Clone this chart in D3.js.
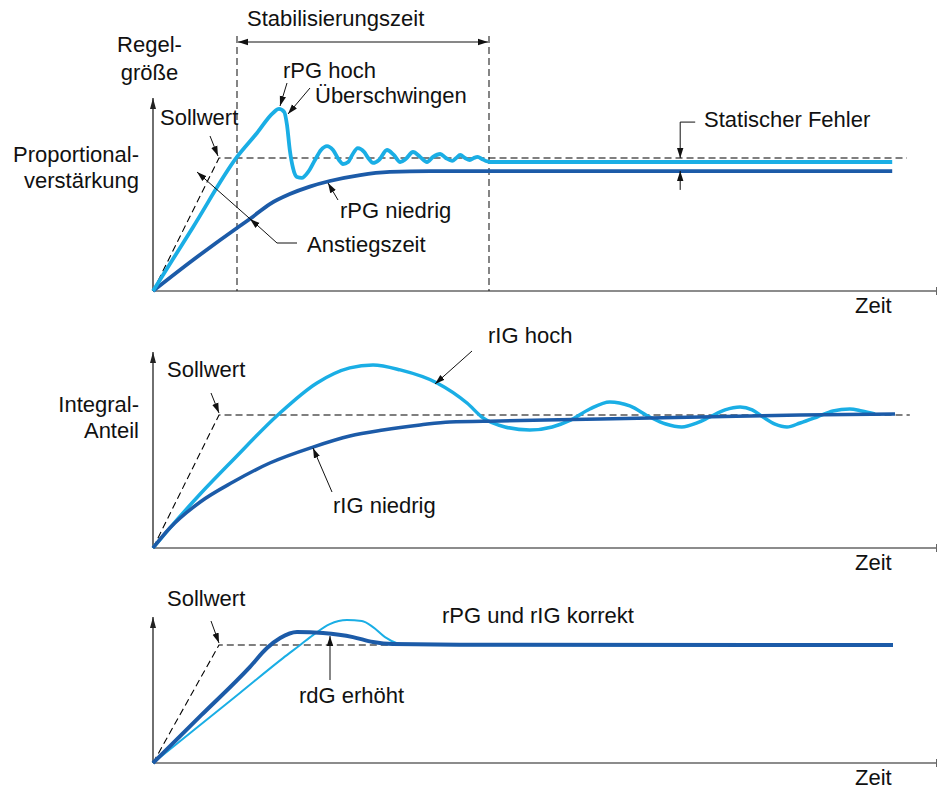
<!DOCTYPE html>
<html><head><meta charset="utf-8">
<script src="https://cdn.jsdelivr.net/npm/d3@7"></script>
<style>
body{margin:0;background:#fff;}
svg{display:block;font-family:"Liberation Sans",Arial,sans-serif;}
text{font-size:22px;fill:#111;}
</style></head><body>
<svg id="c" width="938" height="793"></svg>
<script>
// ---- Data (time units 0..98, value = % of setpoint) ----
const timeDomain = [0, 98];
const setpointCorner = 8.25;        // time at which setpoint ramp reaches 100 %
const setpointValue = 100;

// Panel 1: Proportionalverstärkung
const p1_setpointEnd = 94.25;
const p1_rPG_hoch = [[0,0],[5,48],[10.5,100.8],[13,118.8],[15,133.9],[15.75,136.9],[16.4,134.6],[16.75,124.8],[17.1,106],[17.5,92.5],[18,85.7],[18.6,85],[19.4,89.5],[20.25,98.5],[21,106],[21.75,109],[22.5,106],[23.25,98.5],[23.75,95.5],[24.4,97],[24.9,102.3],[25.6,107.5],[26.4,104.5],[26.9,100],[27.5,96.3],[28.25,98.5],[29.25,106],[30.1,102.3],[30.9,97],[31.6,99.3],[32.5,104.5],[33.4,100.8],[34.25,97],[35,100.8],[35.9,103],[36.6,100],[37.4,97.8],[37.9,100],[38.4,102.3],[39,100],[39.6,98.5],[40.1,100],[40.6,100.8],[41.1,99.3],[41.6,97.8],[42.1,97],[60,97],[92.4,97]];
const p1_rPG_niedrig = [[0,0],[5,23.3],[10.5,47.4],[12.1,54.1],[14.6,65.4],[17.1,72.9],[19.6,78.5],[22.1,82.7],[25.9,87.2],[29.6,89.5],[34.6,90.2],[42,90.2],[60,90.2],[92.4,90.2]];
const p1_anstieg = 10.5, p1_stabil = 42;   // vertical time markers
const p1_fehlerTime = 65.9;

// Panel 2: Integral-Anteil
const p2_setpointEnd = 94.6;
const p2_rIG_hoch = [[0,0],[2.1,15],[5.9,40.6],[10,66.2],[15.6,100],[20.5,124.1],[24.6,135.4],[27.5,137.6],[30.9,133.9],[35.5,124.1],[39.25,109],[41.25,97.8],[44,91],[47.1,88.7],[49.9,91],[52.25,96.3],[54.6,104.5],[57.1,109.8],[59.6,106.8],[62.1,98.5],[64.1,93.2],[66.1,91],[68,94],[69.6,98.5],[71.5,103.8],[73.4,106],[74.9,103.8],[76.25,98.5],[77.75,93.2],[79.25,91],[80.9,94],[83,98.5],[85,103],[87.1,104.5],[88.6,103],[90.25,100.8]];
const p2_rIG_niedrig = [[0,0],[2.1,15],[5.9,34.6],[10,49.6],[14.6,63.9],[20,75.9],[24.6,84.2],[28.75,88.7],[33.4,92.5],[37.1,94.8],[43.4,95.5],[55.9,97],[68.4,98.5],[80.9,100],[92.75,100.8]];

// Panel 3: korrekt / rdG erhöht
const p3_setpointEnd = 92.5;
const p3_korrekt = [[0,0],[5,27.3],[10.9,59.6],[16.25,88.9],[18.4,100],[20,108.4],[22.1,117.7],[24.25,121.1],[26.1,120.3],[27.5,115.2],[29,106.7],[30.5,101.6],[32.1,100],[60,99.6],[92.5,99.2]];
const p3_rdG_erhoeht = [[0,0],[6,40.3],[12.1,81.3],[14.25,97.4],[15.9,105.9],[18,111],[21.25,110.1],[25,106.7],[27.5,102.5],[30,100.8],[40,100.2],[92.5,100]];

// ---- Drawing ----
const LIGHT = "#1aaee5", DARK = "#1c5ba8";
const svg = d3.select("#c");
const defs = svg.append("defs");
defs.append("marker").attr("id","ah").attr("viewBox","0 -5 10 10")
  .attr("refX",10).attr("refY",0).attr("markerWidth",10).attr("markerHeight",10)
  .attr("markerUnits","userSpaceOnUse").attr("orient","auto-start-reverse")
  .append("path").attr("d","M0,-3.2L10,0L0,3.2Z").attr("fill","#111");
defs.append("marker").attr("id","axh").attr("viewBox","0 -5 12 10")
  .attr("refX",11).attr("refY",0).attr("markerWidth",12).attr("markerHeight",10)
  .attr("markerUnits","userSpaceOnUse").attr("orient","auto")
  .append("path").attr("d","M0,-3L11,0L0,3Z").attr("fill","#222");

const x = d3.scaleLinear().domain(timeDomain).range([153, 937]);
const panels = [
  {y: d3.scaleLinear().domain([0,100]).range([291,158]), top:98,  end:p1_setpointEnd},
  {y: d3.scaleLinear().domain([0,100]).range([548,415]), top:352, end:p2_setpointEnd},
  {y: d3.scaleLinear().domain([0,100]).range([763,645]), top:617, end:p3_setpointEnd}
];

function arrow(x1,y1,x2,y2,both){
  const l = svg.append("line").attr("x1",x1).attr("y1",y1).attr("x2",x2).attr("y2",y2)
    .attr("stroke","#111").attr("stroke-width",1).attr("marker-end","url(#ah)");
  if(both) l.attr("marker-start","url(#ah)");
  return l;
}
function txt(s,xx,yy,anchor){
  svg.append("text").attr("x",xx).attr("y",yy).attr("text-anchor",anchor||"start").text(s);
}

panels.forEach(p=>{
  const y0 = p.y(0);
  svg.append("line").attr("x1",x(0)).attr("y1",y0).attr("x2",x(0)).attr("y2",p.top)
    .attr("stroke","#222").attr("stroke-width",1.3).attr("marker-end","url(#axh)");
  svg.append("line").attr("x1",x(0)).attr("y1",y0).attr("x2",x(98)).attr("y2",y0)
    .attr("stroke","#666").attr("stroke-width",1.6);
  svg.append("line").attr("x1",x(98)-0.5).attr("y1",y0-4).attr("x2",x(98)-0.5).attr("y2",y0+4)
    .attr("stroke","#666").attr("stroke-width",1);
  svg.append("path").attr("d", d3.line()([[x(0),y0],[x(setpointCorner),p.y(setpointValue)],[x(p.end),p.y(setpointValue)]]))
    .attr("fill","none").attr("stroke","#000").attr("stroke-width",1.1).attr("stroke-dasharray","7,4");
  txt("Zeit", 855, y0+22);
});

[p1_anstieg, p1_stabil].forEach(t=>{
  svg.append("line").attr("x1",x(t)).attr("x2",x(t)).attr("y1",36).attr("y2",panels[0].y(0))
    .attr("stroke","#222").attr("stroke-width",1.1).attr("stroke-dasharray","7,4");
});
arrow(x(p1_anstieg)+1, 42, x(p1_stabil)-1, 42, true);

const curve = (sc)=>d3.line().x(d=>x(d[0])).y(d=>sc(d[1])).curve(d3.curveMonotoneX);
function series(data, sc, color, w){
  svg.append("path").attr("d",curve(sc)(data)).attr("fill","none").attr("stroke",color)
    .attr("stroke-width",w).attr("stroke-linecap","butt").attr("stroke-linejoin","round");
}
series(p1_rPG_niedrig, panels[0].y, DARK, 3.8);
series(p1_rPG_hoch, panels[0].y, LIGHT, 3.8);
series(p2_rIG_hoch, panels[1].y, LIGHT, 3.5);
series(p2_rIG_niedrig, panels[1].y, DARK, 3.5);
series(p3_korrekt, panels[2].y, LIGHT, 2);
series(p3_rdG_erhoeht, panels[2].y, DARK, 4);

const fx = x(p1_fehlerTime), Y1 = panels[0].y;
svg.append("line").attr("x1",fx+15).attr("y1",Y1(127)).attr("x2",fx).attr("y2",Y1(127)).attr("stroke","#111");
arrow(fx, Y1(127), fx, Y1(100));
arrow(fx, Y1(76), fx, Y1(90.2));

svg.append("polyline").attr("points","297,243 277,243 257,225").attr("fill","none").attr("stroke","#111");
arrow(257,225,250,219);
arrow(257,225,197,172);

arrow(210,136,218,156);
arrow(287,83,280,106);
arrow(310,88,288,114);
arrow(338,200,328,183);
arrow(211,393,219,413);
arrow(472,351,435,384);
arrow(332,492,313,448);
arrow(211,621,219,643);
arrow(330,680,330,636);

txt("Stabilisierungszeit",247,26);
txt("Regel-",149.5,52,"middle");
txt("größe",149.5,80,"middle");
txt("Sollwert",160,125);
txt("Proportional-",139,162,"end");
txt("verstärkung",139,188,"end");
txt("rPG hoch",283,78);
txt("Überschwingen",315,103);
txt("rPG niedrig",340,218);
txt("Anstiegszeit",307,252);
txt("Statischer Fehler",704,127);

txt("Sollwert",167,377);
txt("Integral-",139,412,"end");
txt("Anteil",139,438,"end");
txt("rIG hoch",488,343);
txt("rIG niedrig",333,513);

txt("Sollwert",167,606);
txt("rPG und rIG korrekt",442,623);
txt("rdG erhöht",299,703);
</script></body></html>
